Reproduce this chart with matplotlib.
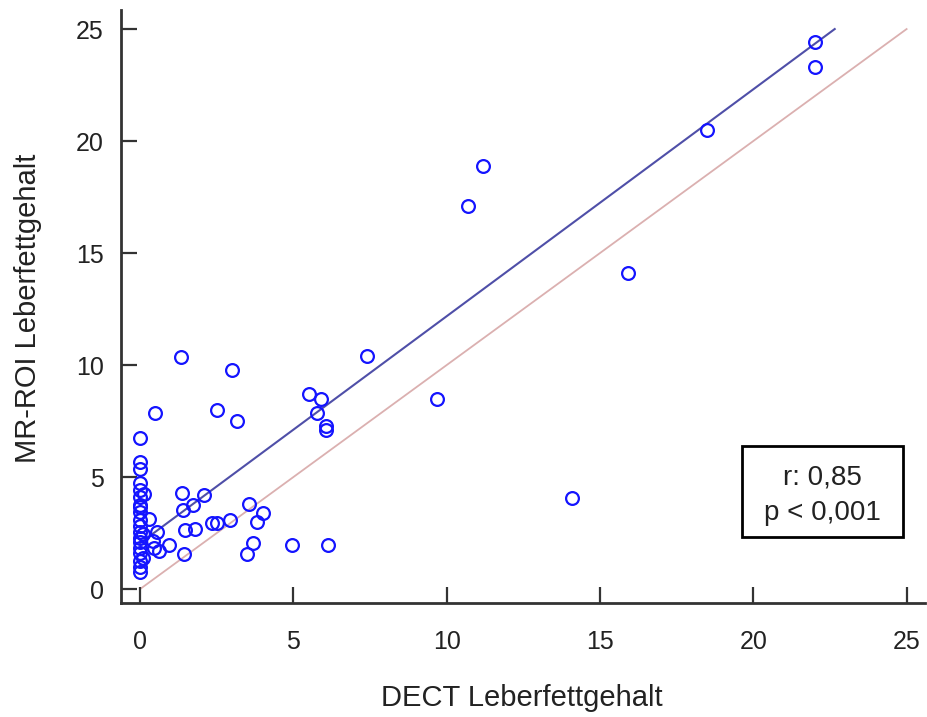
import matplotlib
matplotlib.use("Agg")
import matplotlib.pyplot as plt
from matplotlib.patches import Rectangle
import numpy as np

plt.rcParams['font.family'] = ['Liberation Sans', 'DejaVu Sans']

# DECT (x) vs MR-ROI (y) liver fat content
dect = [22.0, 22.0, 18.5, 11.2, 10.7, 15.9, 14.1, 9.7, 7.4, 1.33,
        3.0, 0.48, 2.5, 3.15, 5.5, 5.9, 5.77, 6.06, 6.06, 6.13,
        4.95, 3.56, 4.02, 3.83, 2.94, 3.68, 3.5, 2.34, 2.5, 1.8,
        1.46, 1.44, 1.38, 2.09, 1.41, 1.74, 0.95, 0.63, 0.45, 0.43,
        0.54, 0.29, 0.13, 0.11, 0.11,
        0.0, 0.0, 0.0, 0.0, 0.0, 0.0, 0.0, 0.0, 0.0, 0.0,
        0.0, 0.0, 0.0, 0.0, 0.0, 0.0, 0.0, 0.0, 0.0]
mr_roi = [24.4, 23.3, 20.5, 18.9, 17.1, 14.1, 4.05, 8.5, 10.4, 10.35,
          9.8, 7.85, 8.0, 7.5, 8.7, 8.5, 7.85, 7.3, 7.1, 1.95,
          1.95, 3.8, 3.4, 3.0, 3.1, 2.05, 1.55, 2.95, 2.95, 2.7,
          2.65, 1.55, 4.3, 4.2, 3.55, 3.75, 1.95, 1.71, 1.84, 2.15,
          2.56, 3.15, 4.25, 2.47, 1.4,
          6.73, 5.68, 5.34, 4.75, 4.42, 4.12, 3.75, 3.45, 3.1, 2.8,
          2.55, 2.3, 2.1, 1.85, 1.6, 1.25, 1.0, 0.77, 3.65]

reg_intercept = 2.05
reg_slope = 1.013
ticks = [0, 5, 10, 15, 20, 25]
stats_lines = ["r: 0,85", "p < 0,001"]
xlabel = "DECT Leberfettgehalt"
ylabel = "MR-ROI Leberfettgehalt"

fig = plt.figure(figsize=(9.27, 7.17), dpi=100)
ax = fig.add_axes([121/927, 1 - 603/717, (925-121)/927, (603-10)/717])

ax.set_xlim(-0.62, 25.6)
ax.set_ylim(-0.62, 25.85)

# identity line
ax.plot([0, 25], [0, 25], color='#dbb0b0', lw=1.3, zorder=1)
# regression line
x_end = (25 - reg_intercept) / reg_slope
xs = np.array([0, x_end])
ax.plot(xs, reg_intercept + reg_slope * xs, color='#4f4fa8', lw=1.5, zorder=2)

ax.plot(dect, mr_roi, linestyle='none', marker='o', markersize=9.2,
        markerfacecolor='none', markeredgecolor='#1414ff', markeredgewidth=1.6,
        zorder=3)

for s in ['top', 'right']:
    ax.spines[s].set_visible(False)
for s in ['left', 'bottom']:
    ax.spines[s].set_linewidth(2.0)
    ax.spines[s].set_color('#333333')

ax.set_xticks(ticks)
ax.set_yticks(ticks)
ax.tick_params(axis='both', direction='in', length=11.5, width=1.6,
               color='#333333', labelsize=18, labelcolor='#222222')
ax.tick_params(axis='y', pad=12.5)
ax.tick_params(axis='x', pad=19.5)

fig.text(522/927, 1 - 698/717, xlabel, ha='center', va='center',
         fontsize=21, color='#222222')
fig.text(28/927, 1 - 308/717, ylabel, ha='center', va='center',
         rotation=90, fontsize=21, color='#222222')

# statistics box
ax.add_patch(Rectangle((0.7724, 0.1113), 0.2002, 0.1535, transform=ax.transAxes,
                       facecolor='white', edgecolor='black', linewidth=2.0,
                       zorder=5))
ax.text(0.8719, 0.2113, stats_lines[0], transform=ax.transAxes, ha='center',
        va='center', fontsize=20, color='#222222', zorder=6)
ax.text(0.8719, 0.1513, stats_lines[1], transform=ax.transAxes, ha='center',
        va='center', fontsize=20, color='#222222', zorder=6)

fig.savefig('out.png', dpi=100)
